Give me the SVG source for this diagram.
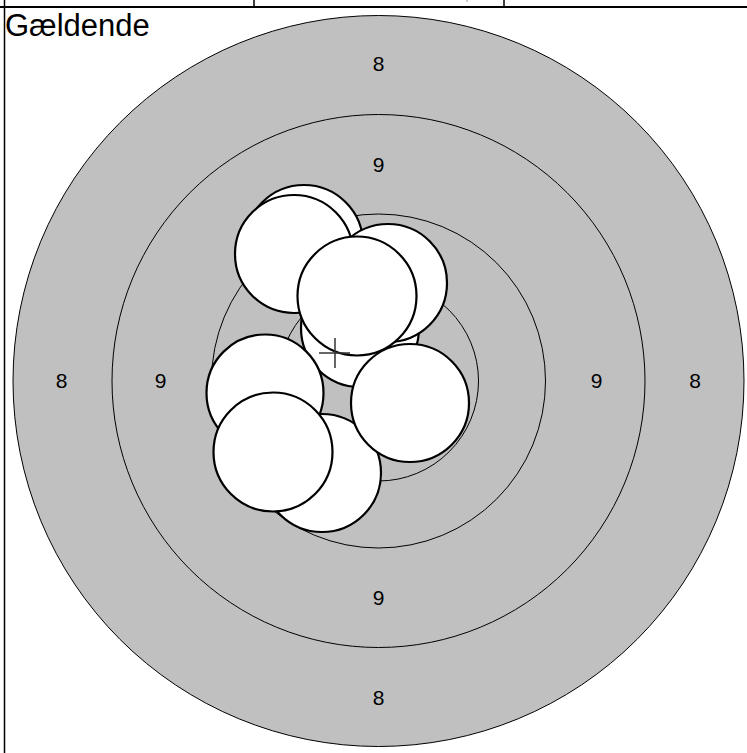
<svg xmlns="http://www.w3.org/2000/svg" width="747" height="753" viewBox="0 0 747 753">
<style>
.ring{fill:#c0c0c0;stroke:#000;stroke-width:1}
.ringl{fill:none;stroke:#000;stroke-width:1}
.lbl{font-family:"Liberation Sans",Arial,sans-serif;font-size:21px;fill:#000;text-anchor:middle}
.hole{fill:#fff;stroke:#000;stroke-width:2.2}
.frame{stroke:#000;fill:none}
</style>
<rect width="747" height="753" fill="#fff"/>
<g id="frame">
<line class="frame" x1="0" y1="7" x2="747" y2="7" stroke-width="2"/>
<line class="frame" x1="4.5" y1="0" x2="4.5" y2="753" stroke-width="1.5"/>
<line class="frame" x1="254" y1="0" x2="254" y2="7" stroke-width="1.5"/>
<line class="frame" x1="504" y1="0" x2="504" y2="7" stroke-width="1.5"/>
<line x1="467" y1="0" x2="467" y2="2" stroke="#999" stroke-width="1"/>
<text x="5" y="36" font-family="'Liberation Sans',Arial,sans-serif" font-size="31">Gældende</text>
</g>
<g id="target">
<circle class="ring" cx="378.5" cy="381" r="365.5"/>
<circle class="ringl" cx="378.5" cy="381" r="266.5"/>
<circle class="ringl" cx="378.5" cy="381" r="167"/>
<circle class="ringl" cx="378.5" cy="381" r="100"/>
<text class="lbl" x="378.5" y="71">8</text>
<text class="lbl" x="378.5" y="172">9</text>
<text class="lbl" x="378.5" y="605">9</text>
<text class="lbl" x="378.5" y="705">8</text>
<text class="lbl" x="61.5" y="388">8</text>
<text class="lbl" x="160.5" y="388">9</text>
<text class="lbl" x="596.5" y="388">9</text>
<text class="lbl" x="695" y="388">8</text>
</g>
<g id="shots">
<g id="shot-e"><circle class="hole" cx="360" cy="328" r="59"/></g>
<g id="shot-f"><circle class="hole" cx="265" cy="393" r="58.5"/></g>
<g id="shot-h"><circle class="hole" cx="322" cy="473" r="59"/></g>
<g id="shot-i"><circle class="hole" cx="410" cy="403" r="59"/></g>
<g id="shot-g"><circle class="hole" cx="273" cy="452" r="59.5"/></g>
<g id="shot-a"><circle class="hole" cx="304" cy="244" r="59"/></g>
<g id="shot-b"><circle class="hole" cx="294" cy="254" r="59"/></g>
<g id="shot-c"><circle class="hole" cx="388" cy="283" r="59"/></g>
<g id="shot-d"><circle class="hole" cx="357" cy="296" r="59.5"/></g>
</g>
<g id="crosshair" stroke="#333" stroke-width="1.5">
<line x1="335" y1="338" x2="335" y2="368"/>
<line x1="319" y1="353" x2="350" y2="353"/>
</g>
</svg>
